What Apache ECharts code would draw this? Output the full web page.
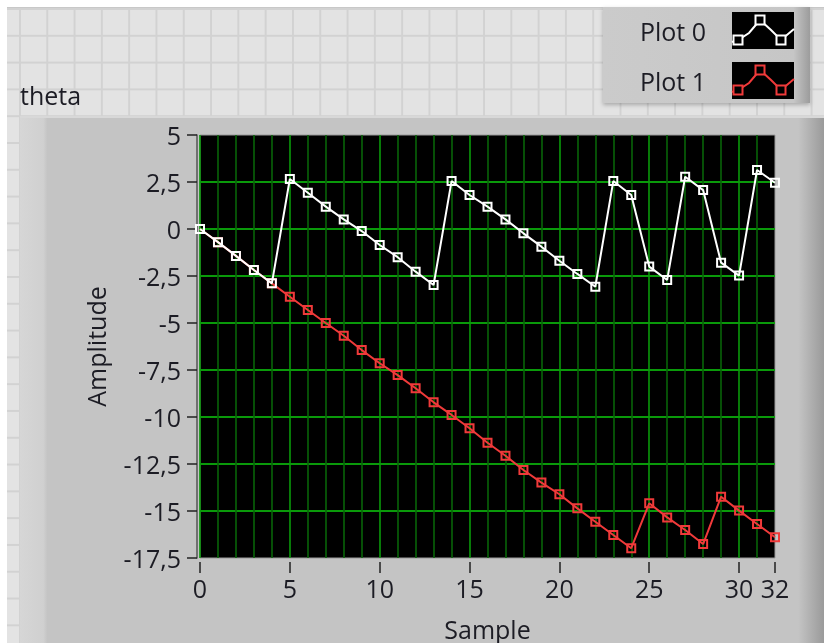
<!DOCTYPE html>
<html><head><meta charset="utf-8">
<script src="https://cdn.jsdelivr.net/npm/echarts@6/dist/echarts.min.js"></script>
<style>
html,body{margin:0;padding:0;width:824px;height:643px;overflow:hidden;background:#fff;}
#panel{position:absolute;left:7px;top:7px;width:817px;height:636px;background-color:#e3e3e3;
background-image:linear-gradient(90deg,#d2d2d2 2px,transparent 2px),linear-gradient(180deg,#d2d2d2 2px,transparent 2px);
background-size:27.3px 26.8px;background-position:12px 0;border-top:1px solid #c8c8c8;}
#chart{position:absolute;left:0;top:0;width:824px;height:643px;}
</style></head><body><div id="panel"></div><div id="chart"></div>
<script>
// ---- data ----
const samples = [0,1,2,3,4,5,6,7,8,9,10,11,12,13,14,15,16,17,18,19,20,21,22,23,24,25,26,27,28,29,30,31,32];
const plot0 = [0,-0.70,-1.43,-2.18,-2.89,2.66,1.93,1.19,0.51,-0.11,-0.85,-1.50,-2.27,-2.98,2.55,1.81,1.19,0.51,-0.23,-0.94,-1.69,-2.39,-3.07,2.55,1.81,-2.00,-2.71,2.78,2.07,-1.79,-2.48,3.14,2.46];
const plot1 = [0,-0.70,-1.43,-2.18,-2.89,-3.60,-4.31,-5.00,-5.68,-6.44,-7.14,-7.77,-8.47,-9.22,-9.89,-10.60,-11.37,-12.06,-12.82,-13.49,-14.11,-14.86,-15.57,-16.28,-16.98,-14.59,-15.34,-16.01,-16.76,-14.24,-14.98,-15.69,-16.40];
const seriesNames = ['Plot 0','Plot 1'];
const xTickLabels = [0,5,10,15,20,25,30,32];
const yTickLabels = [5,2.5,0,-2.5,-5,-7.5,-10,-12.5,-15,-17.5];

// ---- style ----
const FONT = 'Open Sans';
const TXT = '#1c1c24';
const MAJOR = '#0a9a0a';
const MINOR = '#086408';
const WHITE = '#ffffff';
const RED = '#f03a3a';
const SYM = 'path://M0 0H10V10H0Z M2 2V8H8V2Z';

const chart = echarts.init(document.getElementById('chart'), null, {renderer:'canvas'});

function pairs(vals){ return samples.map((s,i)=>[s, vals[i]]); }

// legend swatch decoration (inside the legend's black icon boxes)
const swX = 732, swY0 = 12, swGap = 50;
const swLine = [[0,30],[6,28],[17,21],[28,8],[39,18],[49,28],[62,17]];
const swMarks = [[6,28],[28,8],[49,28]];
function swatch(i, color){
  const y0 = swY0 + i*swGap;
  const els = [{type:'polyline', shape:{points: swLine.map(p=>[swX+p[0], y0+p[1]])}, style:{stroke:color, lineWidth:2, fill:null}, z:100}];
  swMarks.forEach(m=>{
    els.push({type:'rect', shape:{x:swX+m[0]-4.5, y:y0+m[1]-4.5, width:9, height:9}, style:{stroke:color, lineWidth:2, fill:'#000'}, z:101});
  });
  return els;
}

const option = {
  animation:false,
  backgroundColor:'transparent',
  textStyle:{fontFamily:FONT},
  title:{text:'theta', left:15, top:80, textStyle:{fontFamily:FONT, fontSize:25, fontWeight:'normal', color:TXT}},
  graphic:[
    {type:'rect', shape:{x:20, y:116, width:804, height:527}, z:-10,
      style:{fill:new echarts.graphic.LinearGradient(0,0,1,0,[
        {offset:0,color:'#d6d6d6'},{offset:0.029,color:'#d0d0d0'},{offset:0.034,color:'#c4c4c4'},
        {offset:0.968,color:'#c4c4c4'},{offset:1,color:'#9a9a9a'}])}},
    {type:'rect', shape:{x:20, y:116, width:804, height:2}, z:-9, style:{fill:'#d8d8d8'}},
    {type:'rect', shape:{x:603, y:7, width:207, height:96}, z:-10,
      style:{fill:new echarts.graphic.LinearGradient(0,0,1,0,[
        {offset:0,color:'#cbcbcb'},{offset:0.92,color:'#c6c6c6'},{offset:1,color:'#9c9c9c'}]),
        shadowColor:'rgba(0,0,0,0.25)', shadowBlur:4, shadowOffsetY:2}},
    ...swatch(0, WHITE),
    ...swatch(1, RED)
  ],
  legend:{
    data:seriesNames, orient:'vertical', right:30, top:swY0, padding:0,
    itemWidth:62, itemHeight:37, itemGap:swGap-37, align:'right', icon:'rect',
    selectedMode:false,
    itemStyle:{color:'#000', borderWidth:0},
    formatter:name=>'{t|'+name+'}',
    textStyle:{fontFamily:FONT, fontSize:25, color:TXT, padding:[0,21,0,0],
      rich:{t:{fontFamily:FONT, fontSize:25, color:TXT, padding:[6,0,0,0]}}}
  },
  grid:{left:200, top:135, width:575, height:423, show:true, backgroundColor:'#000', borderColor:'#9a9a9a', borderWidth:1,
    containLabel:false, outerBoundsMode:'none'},
  xAxis:[{
    type:'value', min:0, max:32, interval:1, position:'bottom', offset:4,
    name:'Sample', nameLocation:'middle', nameGap:57,
    nameTextStyle:{fontFamily:FONT, fontSize:25, color:TXT},
    axisLine:{show:false, onZero:false},
    axisTick:{show:true, length:11, customValues:xTickLabels, lineStyle:{color:'#222', width:1.5}},
    axisLabel:{customValues:xTickLabels, margin:16, fontFamily:FONT, fontSize:25, color:TXT},
    splitLine:{show:false}
  },{
    // grid-only axis: one line per sample, brighter every 5
    type:'value', min:0, max:32, interval:1, position:'top',
    axisLine:{show:false, onZero:false}, axisTick:{show:false}, axisLabel:{show:false},
    splitLine:{show:true, showMinLine:true, showMaxLine:false, lineStyle:{color:[MAJOR,MINOR,MINOR,MINOR,MINOR], width:1.6}}
  }],
  yAxis:{
    type:'value', min:-17.5, max:5, interval:2.5, offset:3,
    name:'Amplitude', nameLocation:'middle', nameGap:86,
    nameTextStyle:{fontFamily:FONT, fontSize:25, color:TXT},
    axisLine:{show:true, onZero:false, lineStyle:{color:'#555', width:1.5}},
    axisTick:{show:true, length:10, lineStyle:{color:'#222', width:1.5}},
    axisLabel:{margin:16, fontFamily:FONT, fontSize:25, color:TXT,
      formatter:v=>'{t|'+String(v).replace('.',',')+'}',
      rich:{t:{fontFamily:FONT, fontSize:25, color:TXT, padding:[6,0,0,0]}}},
    splitLine:{show:true, showMinLine:false, showMaxLine:false, lineStyle:{color:MAJOR, width:1.8}}
  },
  series:[
    {name:seriesNames[0], type:'line', data:pairs(plot0), z:4, symbol:SYM, symbolSize:10, showAllSymbol:true,
      lineStyle:{color:WHITE, width:2}, itemStyle:{color:WHITE}, emphasis:{disabled:true}},
    {name:seriesNames[1], type:'line', data:pairs(plot1), z:3, symbol:SYM, symbolSize:10, showAllSymbol:true,
      lineStyle:{color:RED, width:2}, itemStyle:{color:RED}, emphasis:{disabled:true}}
  ]
};
chart.setOption(option);
</script></body></html>
